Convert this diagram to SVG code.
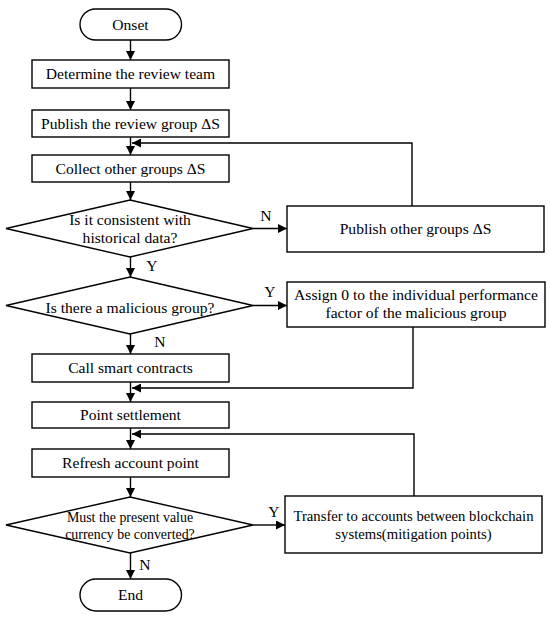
<svg xmlns="http://www.w3.org/2000/svg" width="550" height="617" viewBox="0 0 550 617">
<style>
.b{fill:#fff;stroke:#000;stroke-width:1.4}
.t{font-family:"Liberation Serif","Times New Roman",serif;font-size:15.6px;fill:#000;text-anchor:middle}
.s{font-size:13.9px}
.m{font-size:14.7px}
.c{fill:none;stroke:#000;stroke-width:1.4}
</style>
<defs>
<marker id="a" viewBox="0 0 10 10" refX="10" refY="5" markerWidth="9" markerHeight="9" markerUnits="userSpaceOnUse" orient="auto">
<path d="M0,0L10,5L0,10z" fill="#000"/>
</marker>
</defs>
<rect width="550" height="617" fill="#fff"/>
<g id="connectors">
<line class="c" x1="130.5" y1="40" x2="130.5" y2="60" marker-end="url(#a)"/>
<line class="c" x1="130.5" y1="88" x2="130.5" y2="110" marker-end="url(#a)"/>
<line class="c" x1="130.5" y1="137" x2="130.5" y2="155" marker-end="url(#a)"/>
<line class="c" x1="130.5" y1="182" x2="130.5" y2="200" marker-end="url(#a)"/>
<line class="c" x1="253" y1="228.5" x2="287" y2="228.5" marker-end="url(#a)"/>
<polyline class="c" points="412,206 412,143 132,143" marker-end="url(#a)"/>
<line class="c" x1="130.5" y1="257" x2="130.5" y2="277" marker-end="url(#a)"/>
<line class="c" x1="253" y1="305.5" x2="287" y2="305.5" marker-end="url(#a)"/>
<line class="c" x1="130.5" y1="334" x2="130.5" y2="354" marker-end="url(#a)"/>
<polyline class="c" points="413,327 413,388 132,388" marker-end="url(#a)"/>
<line class="c" x1="130.5" y1="382" x2="130.5" y2="402" marker-end="url(#a)"/>
<line class="c" x1="130.5" y1="428" x2="130.5" y2="449" marker-end="url(#a)"/>
<polyline class="c" points="414,496 414,434 132,434" marker-end="url(#a)"/>
<line class="c" x1="130.5" y1="477" x2="130.5" y2="497" marker-end="url(#a)"/>
<line class="c" x1="253" y1="525" x2="285" y2="525" marker-end="url(#a)"/>
<line class="c" x1="130.5" y1="553" x2="130.5" y2="579" marker-end="url(#a)"/>
<text class="t" x="266" y="221">N</text>
<text class="t" x="152" y="271">Y</text>
<text class="t" x="270" y="297">Y</text>
<text class="t" x="160" y="347">N</text>
<text class="t" x="274" y="517">Y</text>
<text class="t" x="145" y="570">N</text>
</g>
<g id="onset">
<rect class="b" x="80" y="9" width="101.5" height="31" rx="15.5"/>
<text class="t" x="130.5" y="30">Onset</text>
</g>
<g id="determine">
<rect class="b" x="32" y="60" width="197" height="28"/>
<text class="t" x="130.5" y="79">Determine the review team</text>
</g>
<g id="publish">
<rect class="b" x="32" y="110" width="197" height="27"/>
<text class="t" x="130.5" y="129">Publish the review group ΔS</text>
</g>
<g id="collect">
<rect class="b" x="32" y="155" width="197" height="27"/>
<text class="t" x="130.5" y="174">Collect other groups ΔS</text>
</g>
<g id="consistent">
<polygon class="b" points="130,200 253,228.5 130,257 6,228.5"/>
<text class="t" x="130" y="225">Is it consistent with</text>
<text class="t" x="130" y="243">historical data?</text>
</g>
<g id="publishOther">
<rect class="b" x="287" y="206" width="257" height="46"/>
<text class="t" x="415.5" y="234">Publish other groups ΔS</text>
</g>
<g id="malicious">
<polygon class="b" points="130,277 253,305.5 130,334 6,305.5"/>
<text class="t" x="130" y="313">Is there a malicious group?</text>
</g>
<g id="assign">
<rect class="b" x="287" y="282" width="258" height="45"/>
<text class="t" x="416" y="300">Assign 0 to the individual performance</text>
<text class="t" x="416" y="318">factor of the malicious group</text>
</g>
<g id="callSmart">
<rect class="b" x="32" y="354" width="197" height="28"/>
<text class="t" x="130.5" y="373">Call smart contracts</text>
</g>
<g id="pointSettlement">
<rect class="b" x="32" y="402" width="197" height="26"/>
<text class="t" x="130.5" y="420">Point settlement</text>
</g>
<g id="refresh">
<rect class="b" x="32" y="449" width="197" height="28"/>
<text class="t" x="130.5" y="468">Refresh account point</text>
</g>
<g id="convert">
<polygon class="b" points="130,497 253,525 130,553 6,525"/>
<text class="t s" x="130" y="522">Must the present value</text>
<text class="t s" x="130" y="539">currency be converted?</text>
</g>
<g id="transfer">
<rect class="b" x="285" y="496" width="257" height="57"/>
<text class="t m" x="413.5" y="521">Transfer to accounts between blockchain</text>
<text class="t m" x="413.5" y="539">systems(mitigation points)</text>
</g>
<g id="end">
<rect class="b" x="80" y="579" width="101.5" height="32" rx="16"/>
<text class="t" x="130.5" y="600">End</text>
</g>
</svg>
